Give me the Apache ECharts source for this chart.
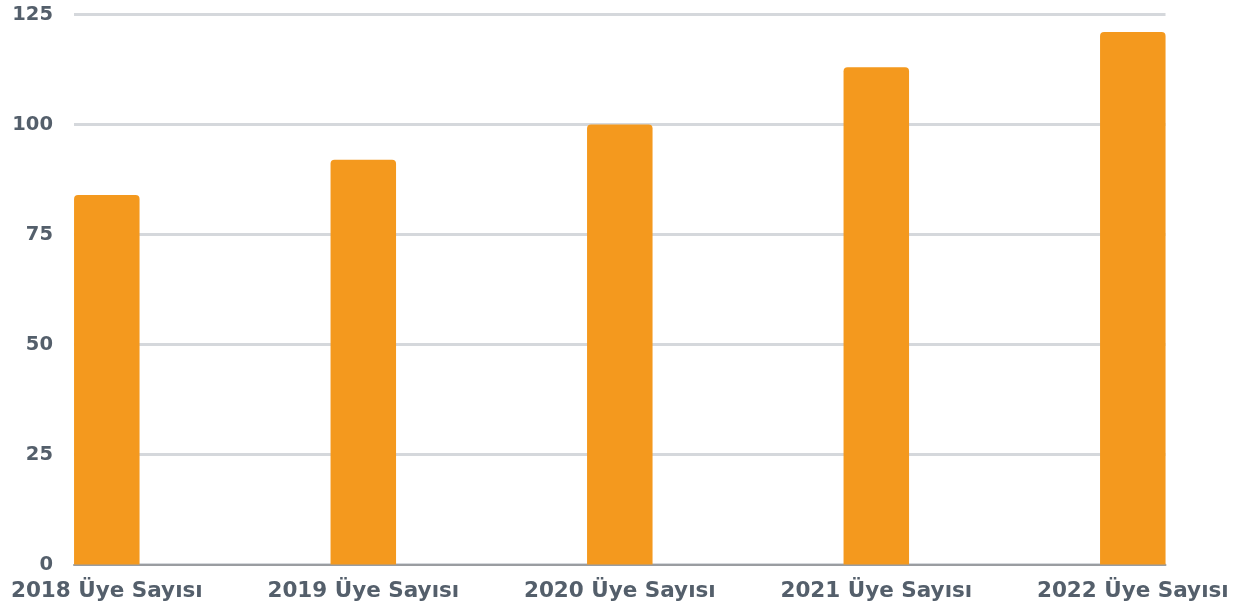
<!DOCTYPE html>
<html>
<head>
<meta charset="utf-8">
<script src="https://cdn.jsdelivr.net/npm/echarts@6/dist/echarts.min.js"></script>
<style>
html,body{margin:0;padding:0;background:#fff;}
#c{width:1250px;height:612px;}
</style>
</head>
<body>
<div id="c"></div>
<script>
const categories = ["2018 Üye Sayısı", "2019 Üye Sayısı", "2020 Üye Sayısı", "2021 Üye Sayısı", "2022 Üye Sayısı"];
const members = [84, 92, 100, 113, 121];
const yTicks = [0, 25, 50, 75, 100, 125];

const labelColor = '#545f6b';
const font = 'DejaVu Sans';
const chart = echarts.init(document.getElementById('c'), null, {renderer: 'canvas'});
chart.setOption({
  animation: false,
  backgroundColor: '#ffffff',
  grid: [
    {left: 74, right: 84.5, top: 14.5, bottom: 47.5},
    {left: 106.8, right: 117.2, top: 14.5, bottom: 47.5}
  ],
  xAxis: [
    {
      gridIndex: 0, type: 'category', data: categories, boundaryGap: false,
      axisLine: {show: true, lineStyle: {color: '#9a9da1', width: 2}},
      axisTick: {show: false}, axisLabel: {show: false}, splitLine: {show: false}
    },
    {
      gridIndex: 1, type: 'category', data: categories, boundaryGap: false,
      axisLine: {show: false}, axisTick: {show: false},
      axisLabel: {show: true, color: labelColor, fontFamily: font, fontWeight: 'bold', fontSize: 21.5, margin: 16, interval: 0},
      splitLine: {show: false}
    }
  ],
  yAxis: [
    {
      gridIndex: 0, type: 'value', min: yTicks[0], max: yTicks[yTicks.length - 1], interval: 25,
      axisLine: {show: false}, axisTick: {show: false},
      axisLabel: {color: labelColor, fontFamily: font, fontWeight: 'bold', fontSize: 19.5, margin: 21, verticalAlign: 'middle', lineHeight: 22, padding: [5, 0, 0, 0]},
      splitLine: {show: true, lineStyle: {color: '#d5d8dc', width: 3}}
    },
    {
      gridIndex: 1, type: 'value', min: yTicks[0], max: yTicks[yTicks.length - 1], interval: 25,
      show: false, splitLine: {show: false}
    }
  ],
  series: [
    {
      type: 'bar', xAxisIndex: 1, yAxisIndex: 1, data: members,
      barWidth: 65.5,
      itemStyle: {color: '#f4991e', borderRadius: [4, 4, 0, 0]},
      z: 1
    }
  ]
});
</script>
</body>
</html>
